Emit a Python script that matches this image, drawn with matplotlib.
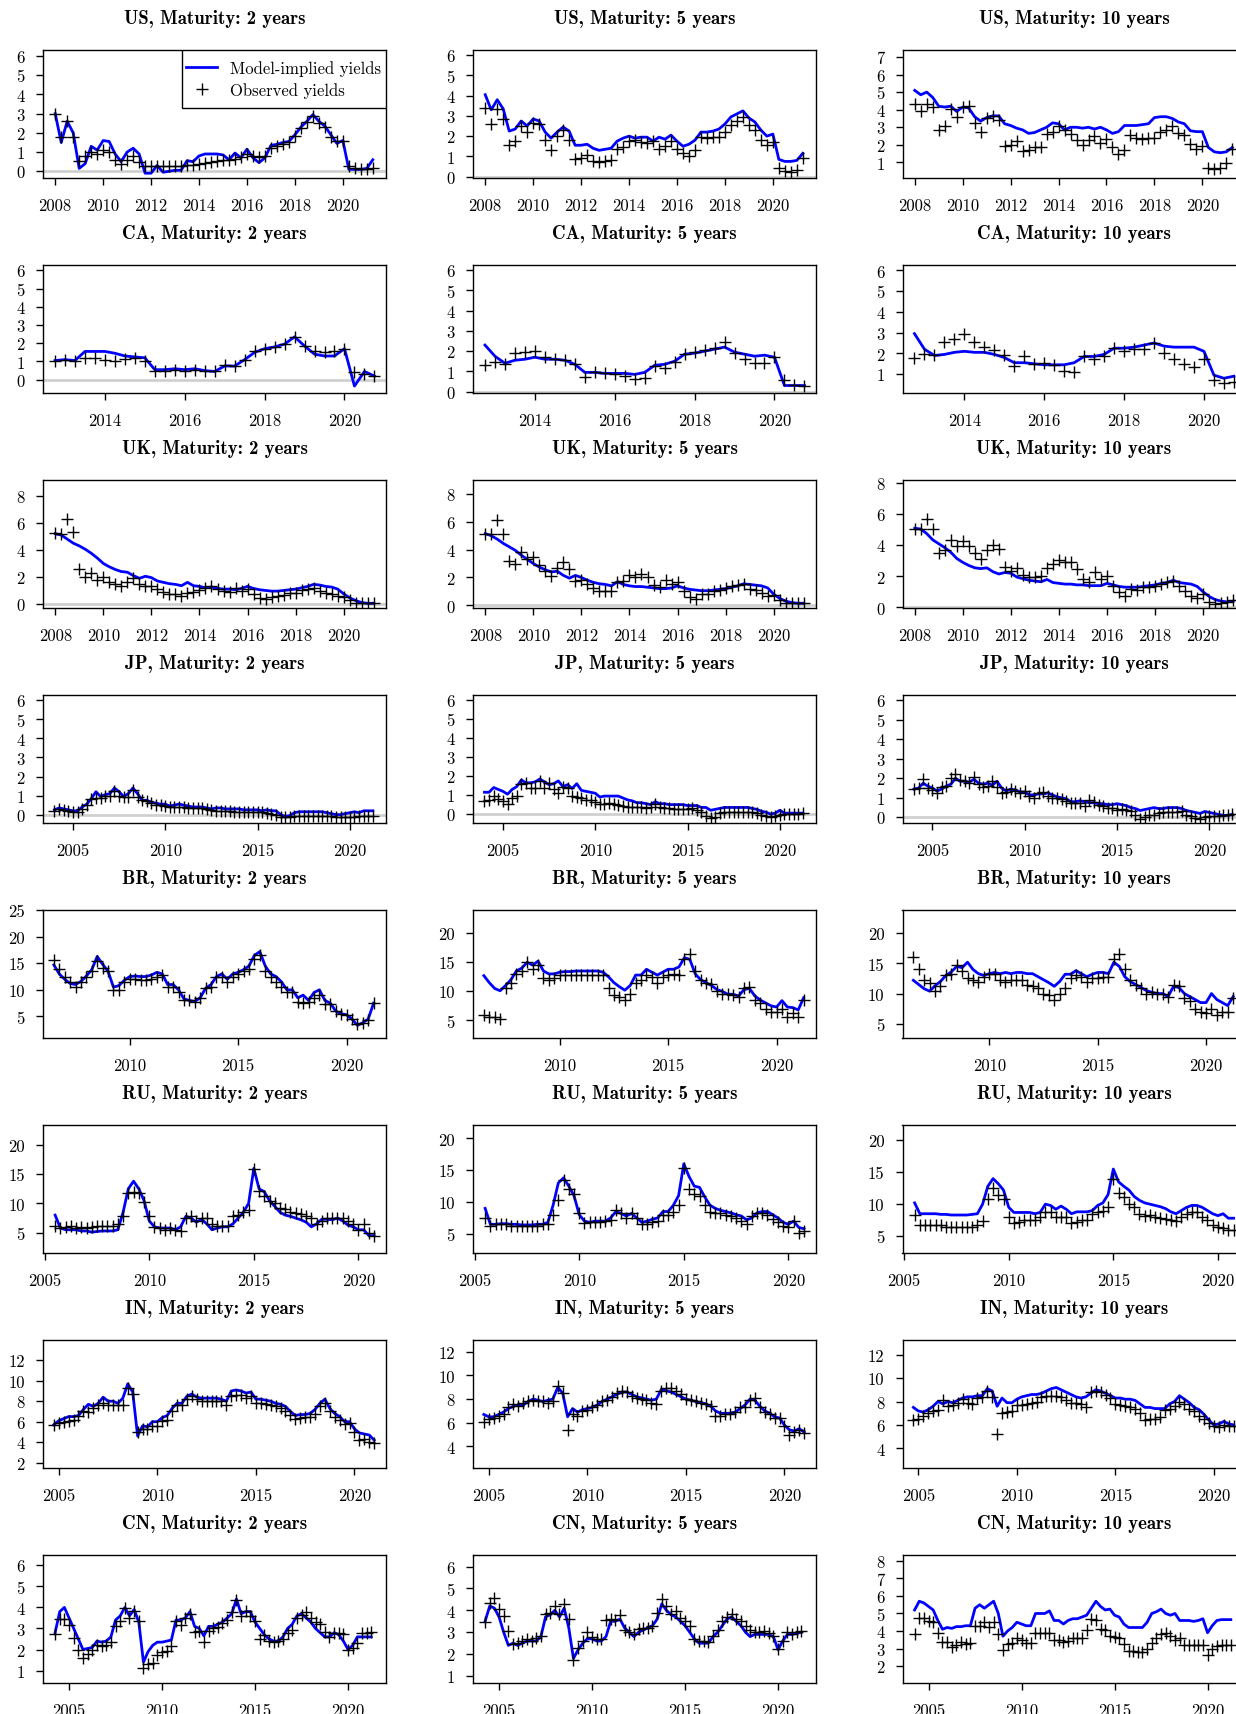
import numpy as np
import matplotlib
matplotlib.use("Agg")
import matplotlib.pyplot as plt
from matplotlib.patches import Rectangle

plt.rcParams["font.family"] = "cmr10"
plt.rcParams["axes.unicode_minus"] = False
plt.rcParams["axes.formatter.use_mathtext"] = True

# first quarter of each country's sample (quarterly data)
start = {"US": 2008.0, "CA": 2012.75, "UK": 2008.0, "JP": 2004.0,
         "BR": 2006.5, "RU": 2005.5, "IN": 2004.75, "CN": 2004.25}

# ---------------- US (2008Q1 - 2021Q2) ----------------
us2_model = [3.0, 1.5, 2.6, 2.0, 0.15, 0.4, 1.3, 1.1, 1.6, 1.55, 0.9, 0.5,
             1.0, 1.2, 0.9, -0.1, -0.1, 0.3, -0.05, 0.0, 0.05, 0.05, 0.55, 0.5,
             0.8, 0.9, 0.9, 0.9, 0.85, 0.6, 0.95, 0.7, 1.15, 0.7, 0.45, 0.7,
             1.35, 1.4, 1.5, 1.55, 1.9, 2.3, 2.6, 2.95, 2.6, 2.35, 1.9, 1.45,
             1.6, 0.1, 0.1, 0.1, 0.15, 0.6]
us2_obs = [3.0, 1.8, 2.6, 1.8, 0.55, 0.8, 1.0, 0.9, 1.1, 1.0, 0.6, 0.4,
           0.6, 0.8, 0.5, 0.25, 0.25, 0.3, 0.25, 0.25, 0.25, 0.3, 0.35, 0.35,
           0.4, 0.45, 0.5, 0.55, 0.6, 0.6, 0.65, 0.75, 0.9, 0.8, 0.75, 0.8,
           1.2, 1.3, 1.4, 1.5, 1.85, 2.25, 2.55, 2.85, 2.5, 2.3, 1.8, 1.6,
           1.6, 0.25, 0.15, 0.1, 0.1, 0.15]
us5_model = [4.05, 3.3, 3.8, 3.35, 2.25, 2.35, 2.75, 2.5, 2.85, 2.75, 2.2, 1.9,
             2.2, 2.45, 2.25, 1.55, 1.55, 1.6, 1.4, 1.3, 1.35, 1.4, 1.75, 1.9,
             2.0, 1.9, 1.95, 1.95, 1.75, 1.95, 1.85, 2.05, 1.75, 1.5, 1.6, 1.8,
             2.2, 2.2, 2.25, 2.35, 2.6, 2.95, 3.1, 3.25, 2.9, 2.7, 2.3, 2.0,
             2.1, 0.85, 0.75, 0.75, 0.8, 1.15]
us5_obs = [3.4, 2.6, 3.35, 2.85, 1.55, 1.75, 2.5, 2.2, 2.65, 2.6, 1.8, 1.3,
           2.0, 2.3, 1.8, 0.85, 0.9, 1.05, 0.75, 0.7, 0.75, 0.8, 1.35, 1.45,
           1.75, 1.8, 1.7, 1.65, 1.75, 1.35, 1.5, 1.75, 1.35, 1.15, 1.0, 1.3,
           1.95, 1.9, 1.95, 1.95, 2.2, 2.55, 2.75, 2.95, 2.55, 2.3, 1.8, 1.55,
           1.7, 0.4, 0.3, 0.25, 0.35, 0.9]
us10_model = [5.1, 4.85, 5.0, 4.7, 4.2, 4.15, 4.2, 3.9, 4.15, 4.1, 3.6, 3.35,
              3.55, 3.65, 3.65, 3.2, 3.1, 2.95, 2.85, 2.65, 2.7, 2.85, 3.0, 3.25,
              3.2, 2.85, 3.0, 3.0, 2.95, 3.0, 2.9, 3.0, 2.85, 2.65, 2.75, 3.1,
              3.1, 3.1, 3.15, 3.2, 3.55, 3.6, 3.6, 3.5, 3.3, 3.2, 2.8, 2.75,
              2.75, 1.85, 1.6, 1.55, 1.6, 1.85]
us10_obs = [4.3, 3.95, 4.3, 4.15, 2.85, 3.1, 4.05, 3.6, 4.15, 4.2, 3.25, 2.75,
            3.5, 3.65, 3.4, 1.95, 2.0, 2.2, 1.65, 1.7, 1.85, 1.9, 2.6, 2.75,
            3.1, 2.85, 2.6, 2.3, 2.0, 2.3, 2.5, 2.1, 2.35, 1.85, 1.5, 1.7,
            2.55, 2.4, 2.35, 2.4, 2.4, 2.75, 2.85, 3.05, 2.7, 2.55, 2.05, 1.75,
            1.95, 0.7, 0.65, 0.7, 0.95, 1.75]

# ---------------- CA (2012Q4 - 2020Q4) ----------------
ca2_model = [1.05, 1.1, 1.05, 1.55, 1.55, 1.55, 1.45, 1.3, 1.25, 1.2, 0.55, 0.55,
             0.6, 0.55, 0.6, 0.5, 0.45, 0.75, 0.75, 1.1, 1.5, 1.7, 1.8, 1.95,
             2.35, 1.85, 1.4, 1.3, 1.3, 1.7, -0.35, 0.45, 0.2]
ca2_obs = [1.05, 1.1, 1.0, 1.2, 1.2, 1.1, 1.05, 1.15, 1.2, 1.05, 0.45, 0.5,
           0.55, 0.5, 0.55, 0.5, 0.45, 0.8, 0.75, 1.1, 1.55, 1.7, 1.8, 1.95,
           2.35, 1.85, 1.6, 1.5, 1.55, 1.7, 0.4, 0.3, 0.2]
ca5_model = [2.3, 1.75, 1.4, 1.55, 1.6, 1.7, 1.6, 1.6, 1.55, 1.35, 0.95, 0.95,
             0.9, 0.9, 0.9, 0.85, 0.95, 1.3, 1.35, 1.5, 1.85, 1.9, 2.0, 2.1,
             2.2, 1.95, 1.85, 1.75, 1.8, 1.7, 0.3, 0.3, 0.3]
ca5_obs = [1.3, 1.45, 1.35, 1.9, 1.95, 2.0, 1.7, 1.6, 1.55, 1.35, 0.7, 0.95,
           0.9, 0.85, 0.75, 0.6, 0.65, 1.25, 1.15, 1.45, 1.85, 1.95, 2.05, 2.15,
           2.45, 1.9, 1.6, 1.4, 1.4, 1.7, 0.55, 0.35, 0.3]
ca10_model = [2.95, 2.2, 1.9, 1.95, 2.05, 2.1, 2.05, 2.05, 1.95, 1.8, 1.55, 1.55,
              1.5, 1.45, 1.45, 1.45, 1.55, 1.85, 1.85, 1.95, 2.25, 2.25, 2.3, 2.4,
              2.5, 2.35, 2.3, 2.3, 2.3, 2.1, 0.95, 0.8, 0.9]
ca10_obs = [1.8, 1.95, 1.9, 2.55, 2.7, 2.95, 2.55, 2.3, 2.15, 1.9, 1.4, 1.85,
            1.5, 1.55, 1.45, 1.15, 1.1, 1.85, 1.75, 1.85, 2.25, 2.1, 2.2, 2.2,
            2.5, 2.0, 1.75, 1.5, 1.35, 1.75, 0.7, 0.55, 0.6]

# ---------------- UK (2008Q1 - 2021Q2) ----------------
uk2_model = [5.2, 5.1, 4.8, 4.5, 4.3, 4.05, 3.75, 3.4, 3.0, 2.75, 2.55, 2.4,
             2.35, 2.1, 1.9, 2.05, 1.95, 1.7, 1.6, 1.5, 1.45, 1.35, 1.6, 1.35,
             1.3, 1.2, 1.25, 1.15, 1.1, 1.1, 1.05, 1.15, 1.3, 1.15, 1.05, 1.0,
             0.95, 0.95, 1.0, 1.05, 1.1, 1.2, 1.3, 1.45, 1.4, 1.3, 1.25, 1.1,
             0.75, 0.45, 0.25, 0.1, 0.05, 0.05]
uk2_obs = [5.25, 5.2, 6.3, 5.3, 2.6, 2.0, 2.3, 1.75, 2.0, 1.6, 1.45, 1.3,
           1.6, 1.9, 1.5, 1.3, 1.3, 1.1, 0.9, 0.75, 0.75, 0.6, 0.8, 0.85,
           1.0, 1.2, 1.35, 1.1, 0.95, 0.9, 1.15, 0.95, 1.1, 0.75, 0.45, 0.4,
           0.55, 0.6, 0.65, 0.8, 0.8, 1.05, 1.1, 1.2, 0.95, 0.8, 0.7, 0.6,
           0.55, 0.3, 0.1, 0.05, 0.05, 0.05]
uk5_model = [5.15, 5.0, 4.75, 4.45, 4.2, 3.95, 3.6, 3.3, 3.0, 2.75, 2.55, 2.4,
             2.45, 2.15, 1.95, 2.15, 2.0, 1.8, 1.65, 1.55, 1.5, 1.4, 1.7, 1.5,
             1.4, 1.35, 1.35, 1.3, 1.25, 1.2, 1.2, 1.25, 1.4, 1.25, 1.15, 1.1,
             1.05, 1.05, 1.1, 1.15, 1.2, 1.3, 1.4, 1.55, 1.5, 1.45, 1.4, 1.25,
             0.8, 0.5, 0.3, 0.2, 0.15, 0.15]
uk5_obs = [5.1, 5.1, 6.1, 5.15, 3.2, 3.0, 3.85, 3.3, 3.5, 2.9, 2.5, 2.1,
           2.7, 3.1, 2.6, 1.75, 1.8, 1.55, 1.25, 1.05, 1.05, 1.0, 1.7, 1.75,
           2.15, 2.05, 2.25, 2.0, 1.45, 1.35, 1.8, 1.5, 1.65, 1.0, 0.6, 0.45,
           0.8, 0.85, 1.05, 1.1, 1.25, 1.4, 1.45, 1.5, 1.2, 1.1, 0.9, 0.7,
           0.75, 0.35, 0.2, 0.2, 0.2, 0.2]
uk10_model = [5.1, 5.05, 4.75, 4.35, 4.1, 3.85, 3.55, 3.15, 2.9, 2.7, 2.55, 2.5,
              2.55, 2.3, 2.15, 2.25, 2.2, 1.95, 1.85, 1.75, 1.7, 1.65, 1.8, 1.6,
              1.55, 1.5, 1.5, 1.45, 1.45, 1.4, 1.4, 1.4, 1.55, 1.45, 1.35, 1.3,
              1.3, 1.3, 1.35, 1.4, 1.45, 1.55, 1.6, 1.75, 1.6, 1.55, 1.5, 1.35,
              1.0, 0.7, 0.5, 0.4, 0.35, 0.4]
uk10_obs = [5.05, 5.05, 5.7, 5.05, 3.5, 3.7, 4.35, 3.95, 4.25, 3.95, 3.5, 3.15,
            3.7, 4.0, 3.75, 2.6, 2.35, 2.55, 2.1, 1.95, 1.95, 2.0, 2.55, 2.8,
            3.05, 2.95, 2.9, 2.5, 1.85, 1.65, 2.3, 1.85, 2.05, 1.4, 1.0, 0.75,
            1.2, 1.1, 1.3, 1.3, 1.35, 1.5, 1.65, 1.7, 1.35, 1.05, 0.75, 0.6,
            0.85, 0.35, 0.25, 0.3, 0.35, 0.45]

# ---------------- JP (2004Q1 - 2021Q2) ----------------
jp2_model = [0.25, 0.35, 0.3, 0.25, 0.2, 0.2, 0.4, 0.55, 0.85, 1.2, 0.95, 1.05,
             1.1, 1.4, 1.2, 0.95, 1.1, 1.4, 1.1, 0.75, 0.75, 0.65, 0.6, 0.55,
             0.55, 0.45, 0.5, 0.55, 0.5, 0.45, 0.4, 0.4, 0.4, 0.35, 0.3, 0.35,
             0.35, 0.3, 0.3, 0.3, 0.3, 0.25, 0.25, 0.25, 0.25, 0.2, 0.25, 0.2,
             0.2, 0.0, -0.1, -0.05, 0.1, 0.15, 0.15, 0.15, 0.15, 0.15, 0.15, 0.1,
             0.05, 0.0, 0.0, 0.05, 0.1, 0.15, 0.1, 0.2, 0.2, 0.2]
jp2_obs = [0.2, 0.3, 0.25, 0.2, 0.15, 0.15, 0.3, 0.5, 0.8, 0.85, 0.85, 1.0,
           1.0, 1.25, 1.0, 0.9, 0.9, 1.3, 0.95, 0.75, 0.7, 0.6, 0.5, 0.5,
           0.45, 0.4, 0.4, 0.4, 0.4, 0.35, 0.35, 0.35, 0.35, 0.3, 0.25, 0.2,
           0.2, 0.2, 0.2, 0.15, 0.15, 0.15, 0.15, 0.15, 0.15, 0.15, 0.1, 0.05,
           0.0, -0.15, -0.15, -0.1, -0.05, -0.05, -0.05, -0.05, -0.05, -0.05, -0.05, -0.05,
           -0.05, -0.15, -0.15, -0.1, -0.1, -0.1, -0.05, -0.05, -0.05, -0.05]
jp5_model = [1.15, 1.15, 1.4, 1.3, 1.2, 1.05, 1.3, 1.45, 1.8, 1.65, 1.65, 1.7,
             1.85, 1.7, 1.55, 1.6, 1.75, 1.45, 1.55, 1.35, 1.6, 1.25, 1.2, 1.15,
             1.1, 0.9, 0.95, 0.95, 0.95, 0.95, 0.85, 0.75, 0.7, 0.6, 0.6, 0.55,
             0.5, 0.65, 0.55, 0.55, 0.5, 0.5, 0.5, 0.5, 0.45, 0.45, 0.45, 0.35,
             0.35, 0.2, 0.25, 0.3, 0.35, 0.35, 0.35, 0.35, 0.35, 0.35, 0.3, 0.25,
             0.15, 0.1, 0.0, 0.05, 0.2, 0.05, 0.05, 0.05, 0.05, 0.05]
jp5_obs = [0.7, 0.75, 0.95, 0.8, 0.7, 0.55, 0.85, 0.95, 1.6, 1.65, 1.4, 1.4,
           1.75, 1.35, 1.65, 1.3, 1.1, 1.45, 1.4, 0.95, 0.9, 0.85, 0.75, 0.75,
           0.65, 0.55, 0.55, 0.6, 0.55, 0.5, 0.45, 0.4, 0.4, 0.35, 0.35, 0.3,
           0.35, 0.55, 0.35, 0.3, 0.3, 0.25, 0.25, 0.25, 0.25, 0.3, 0.2, 0.1,
           -0.1, -0.2, -0.15, 0.05, 0.1, 0.1, 0.1, 0.1, 0.1, 0.1, 0.1, 0.05,
           -0.05, -0.1, -0.15, -0.1, -0.05, 0.0, 0.0, 0.0, 0.0, 0.05]
jp10_model = [1.45, 1.5, 1.75, 1.6, 1.5, 1.35, 1.45, 1.6, 1.7, 2.0, 1.85, 1.85,
              1.8, 1.95, 1.75, 1.7, 1.75, 1.65, 1.85, 1.5, 1.35, 1.45, 1.4, 1.3,
              1.3, 1.15, 1.15, 1.2, 1.2, 1.25, 1.15, 1.05, 1.0, 0.95, 0.8, 0.8,
              0.85, 0.8, 0.75, 0.75, 0.7, 0.7, 0.65, 0.65, 0.7, 0.65, 0.6, 0.5,
              0.45, 0.35, 0.4, 0.45, 0.5, 0.45, 0.45, 0.5, 0.5, 0.5, 0.45, 0.35,
              0.3, 0.25, 0.2, 0.3, 0.25, 0.2, 0.15, 0.1, 0.1, 0.15]
jp10_obs = [1.45, 1.5, 1.95, 1.5, 1.4, 1.25, 1.55, 1.6, 2.0, 2.2, 1.9, 1.85,
            1.75, 2.05, 1.7, 1.55, 1.6, 1.85, 1.55, 1.25, 1.3, 1.45, 1.35, 1.25,
            1.35, 1.1, 1.0, 1.25, 1.3, 1.1, 1.0, 1.0, 0.95, 0.85, 0.75, 0.75,
            0.75, 0.6, 0.9, 0.8, 0.65, 0.6, 0.5, 0.5, 0.4, 0.45, 0.4, 0.3,
            0.1, -0.1, 0.0, 0.1, 0.1, 0.2, 0.25, 0.25, 0.25, 0.25, 0.3, 0.1,
            0.05, -0.05, -0.1, 0.0, 0.05, 0.05, 0.05, 0.1, 0.1, 0.15]

# ---------------- BR (2006Q3 - 2021Q2) ----------------
br2_model = [14.7, 13.0, 12.0, 11.2, 11.0, 11.6, 12.6, 13.8, 16.3, 14.8,
             13.5, 10.5, 10.8, 11.8, 12.5, 12.6, 12.5, 12.5, 12.8, 13.3, 13.0, 11.0,
             11.0, 10.0, 8.3, 8.0, 7.8, 8.5, 10.3, 11.0, 12.5, 13.0, 12.0, 13.0,
             13.3, 13.8, 14.5, 16.5, 17.2, 14.5, 13.0, 12.5, 11.5, 10.0, 10.0, 8.5,
             9.0, 8.0, 9.5, 10.0, 8.0, 7.5, 6.0, 5.5, 5.3, 4.5, 3.3, 3.8, 4.5, 7.5]
br2_obs = [15.7, 14.0, 12.5, 11.5, 10.5, 11.5, 12.5, 13.5, 15.5, 14.2,
           13.5, 10.0, 10.0, 11.5, 12.0, 12.0, 11.8, 11.8, 12.0, 12.5, 12.8, 10.5,
           10.5, 9.5, 8.0, 8.0, 7.8, 8.5, 10.3, 10.5, 12.5, 12.5, 11.5, 12.5,
           13.0, 13.5, 14.0, 15.8, 16.5, 13.5, 12.5, 11.5, 10.5, 9.5, 9.5, 7.8,
           7.5, 7.8, 8.5, 9.0, 7.3, 7.3, 6.0, 5.5, 5.2, 4.5, 3.5, 3.8, 4.3, 7.5]
br5_model = [12.7, 11.5, 10.5, 10.1, 11.0, 12.0, 13.5, 14.0, 15.0, 14.5,
             15.2, 13.5, 13.0, 13.0, 13.3, 13.4, 13.4, 13.5, 13.5, 13.5, 13.5, 13.5,
             13.3, 12.5, 11.5, 10.8, 10.2, 11.0, 12.8, 12.8, 13.8, 13.3, 12.8, 13.3,
             13.8, 13.8, 14.2, 15.8, 15.5, 13.0, 12.0, 11.5, 11.0, 10.3, 10.0, 9.5,
             9.5, 9.2, 10.3, 10.5, 9.2, 8.5, 8.0, 7.5, 7.3, 8.4, 7.3, 7.2, 6.8, 8.9]
br5_obs = [6.0, 5.5, 5.5, 5.2, 10.5, 11.5, 13.0, 13.5, 15.0, 13.8,
           14.5, 12.3, 12.0, 12.3, 12.8, 12.8, 12.8, 12.8, 12.8, 12.8, 12.8, 12.8,
           12.8, 10.5, 9.3, 9.0, 8.5, 9.5, 11.5, 12.0, 12.8, 12.5, 11.5, 12.5,
           12.8, 13.0, 12.8, 15.5, 16.5, 13.5, 12.0, 11.5, 11.3, 10.0, 9.5, 9.5,
           9.3, 9.0, 10.5, 10.7, 8.5, 8.0, 7.0, 6.5, 6.5, 7.0, 5.5, 6.3, 5.5, 8.5]
br10_model = [12.2, 11.5, 10.8, 10.4, 11.3, 12.0, 13.0, 13.6, 14.5, 14.3,
              15.2, 14.0, 13.3, 13.0, 13.3, 13.5, 13.3, 13.5, 13.3, 13.5, 13.5, 13.3,
              13.3, 12.8, 12.3, 11.8, 11.2, 12.0, 13.2, 13.2, 13.8, 13.3, 12.8, 13.2,
              13.5, 13.5, 13.3, 15.2, 14.5, 12.8, 12.0, 11.5, 11.0, 10.5, 10.2, 10.0,
              10.0, 9.5, 11.2, 11.0, 10.0, 9.5, 9.0, 8.5, 8.5, 10.0, 9.0, 8.5, 8.0, 9.5]
br10_obs = [16.0, 14.0, 12.3, 11.8, 10.5, 11.3, 13.0, 13.3, 14.8, 13.8,
            12.5, 12.3, 12.0, 12.8, 13.3, 13.3, 12.3, 12.0, 12.3, 12.3, 12.3, 11.5,
            11.3, 11.0, 10.0, 9.8, 9.0, 10.0, 11.0, 12.5, 13.0, 12.8, 12.0, 12.5,
            12.5, 12.8, 12.7, 15.8, 16.5, 14.0, 12.3, 11.5, 11.0, 10.0, 10.3, 10.0,
            10.0, 9.5, 11.5, 11.3, 9.3, 8.8, 7.5, 7.0, 6.8, 7.5, 6.5, 7.0, 7.0, 9.3]

# ---------------- RU (2005Q3 - 2020Q4) ----------------
ru2_model = [8.0, 5.8, 5.5, 5.5, 5.5, 5.3, 5.3, 5.1, 5.2, 5.3, 5.3, 5.3, 5.5, 8.5,
             12.5, 13.8, 12.5, 10.5, 7.0, 6.0, 5.8, 5.8, 5.8, 5.5, 6.0, 7.8,
             7.5, 6.8, 7.3, 6.5, 5.5, 5.8, 6.0, 6.0, 6.5, 7.5, 8.5, 10.0,
             16.0, 12.5, 12.0, 10.5, 9.5, 8.5, 8.0, 7.8, 7.5, 7.2, 6.8, 6.0,
             6.5, 7.3, 7.3, 7.2, 7.5, 7.0, 6.3, 6.0, 5.5, 5.5, 4.5, 4.5]
ru2_obs = [6.2, 5.8, 6.0, 6.2, 5.8, 6.0, 5.8, 6.0, 6.2, 6.2, 6.2, 6.2, 6.5, 7.8,
           11.8, 12.0, 11.8, 10.2, 7.8, 6.0, 5.8, 5.5, 5.8, 5.5, 5.3, 7.5,
           7.8, 7.0, 7.5, 7.5, 6.5, 6.2, 6.2, 6.2, 7.8, 8.0, 8.5, 8.8,
           15.8, 12.2, 11.2, 10.5, 10.0, 9.3, 9.0, 8.5, 8.3, 8.2, 7.8, 7.5,
           6.5, 7.0, 7.5, 7.5, 7.5, 7.5, 7.0, 6.5, 5.5, 6.5, 5.0, 4.5]
ru5_model = [9.0, 6.5, 6.5, 6.6, 6.6, 6.5, 6.5, 6.4, 6.4, 6.4, 6.5, 6.5, 6.8, 9.5,
             13.0, 13.8, 12.5, 11.0, 8.0, 7.0, 6.8, 7.0, 7.0, 7.0, 7.5, 8.5,
             8.2, 7.8, 8.2, 7.5, 6.8, 7.0, 7.3, 7.5, 8.5, 8.5, 9.5, 11.0,
             16.0, 14.0, 12.5, 12.3, 10.8, 9.5, 9.0, 8.7, 8.5, 8.3, 8.0, 7.8,
             7.2, 7.5, 8.3, 8.5, 8.5, 8.0, 7.5, 6.8, 6.5, 7.0, 6.0, 5.8]
ru5_obs = [7.5, 6.3, 6.5, 6.5, 6.5, 6.3, 6.3, 6.3, 6.3, 6.3, 6.3, 6.5, 6.5, 8.0,
           10.3, 13.5, 12.0, 11.2, 8.2, 6.7, 6.8, 6.8, 6.8, 7.0, 7.2, 8.7,
           8.2, 7.5, 8.3, 7.5, 6.5, 6.5, 6.8, 7.0, 8.0, 8.0, 8.5, 9.5,
           15.3, 12.0, 11.2, 11.0, 9.5, 8.5, 8.3, 8.2, 8.0, 7.8, 7.5, 7.0,
           6.5, 7.8, 8.3, 8.3, 8.0, 7.3, 6.8, 6.3, 6.0, 7.0, 5.2, 5.5]
ru10_model = [10.2, 8.5, 8.5, 8.5, 8.5, 8.4, 8.4, 8.3, 8.3, 8.3, 8.3, 8.4, 8.5, 10.0,
              12.8, 14.0, 13.2, 12.2, 9.5, 8.7, 8.7, 8.7, 8.7, 8.5, 8.7, 10.0,
              9.8, 9.2, 9.7, 9.2, 8.5, 8.8, 8.8, 8.8, 9.0, 9.8, 10.2, 11.5,
              15.5, 13.5, 12.8, 12.2, 11.2, 10.6, 10.2, 10.0, 9.8, 9.6, 9.3, 8.8,
              8.5, 9.0, 9.5, 9.8, 9.8, 9.5, 9.0, 8.5, 8.2, 8.5, 7.8, 7.8]
ru10_obs = [8.3, 6.8, 6.8, 6.8, 6.8, 6.7, 6.5, 6.5, 6.5, 6.5, 6.5, 6.5, 6.8, 7.3,
            10.8, 12.5, 11.5, 10.8, 8.0, 7.0, 7.2, 7.5, 7.5, 7.5, 8.0, 8.8,
            8.8, 8.0, 8.0, 8.0, 7.0, 7.2, 7.5, 7.5, 8.5, 8.8, 9.0, 9.5,
            14.0, 11.8, 11.2, 10.0, 9.5, 8.5, 8.2, 8.3, 8.0, 7.8, 7.7, 7.5,
            7.3, 8.0, 8.5, 8.8, 8.7, 8.0, 7.5, 6.8, 6.5, 6.3, 6.0, 6.0]

# ---------------- IN (2004Q4 - 2021Q1) ----------------
in2_model = [5.7, 6.1, 6.3, 6.5, 6.5, 6.6, 7.2, 7.7, 7.5, 7.8, 8.4, 8.0, 8.0,
             7.8, 8.3, 9.7, 8.9, 4.6, 5.6, 5.5, 6.0, 6.0, 6.4, 6.6, 7.3,
             7.8, 7.8, 8.5, 8.7, 8.4, 8.3, 8.3, 8.3, 8.3, 8.2, 8.0, 9.0,
             9.1, 9.0, 8.8, 8.9, 8.2, 8.2, 8.1, 8.0, 7.8, 7.7, 7.5, 7.0,
             6.6, 6.7, 6.7, 6.8, 7.2, 7.8, 8.2, 7.3, 6.8, 6.5, 6.0, 6.0,
             5.3, 4.9, 4.8, 4.7, 4.2]
in2_obs = [5.7, 5.9, 6.0, 6.1, 6.2, 6.6, 7.0, 6.9, 7.3, 7.6, 7.8, 7.6, 7.6,
           7.6, 7.6, 9.3, 8.7, 5.0, 5.3, 5.3, 5.6, 5.6, 6.1, 6.2, 7.0,
           7.6, 7.6, 8.2, 8.5, 8.2, 8.0, 8.0, 8.0, 8.0, 8.0, 7.6, 8.5,
           8.6, 8.6, 8.3, 8.5, 7.8, 7.8, 7.7, 7.6, 7.5, 7.3, 7.0, 6.7,
           6.3, 6.4, 6.5, 6.5, 6.8, 7.5, 7.8, 7.0, 6.5, 6.2, 5.8, 5.9,
           5.0, 4.2, 4.3, 4.0, 3.9]
in5_model = [6.7, 6.5, 6.5, 6.7, 6.9, 7.2, 7.4, 7.5, 7.5, 7.8, 8.0, 7.9, 7.8,
             7.9, 8.0, 9.0, 8.5, 6.5, 7.2, 6.9, 7.1, 7.2, 7.3, 7.5, 7.8,
             8.0, 8.2, 8.4, 8.6, 8.6, 8.4, 8.2, 8.1, 8.0, 7.9, 8.0, 8.8,
             8.7, 8.6, 8.4, 8.2, 8.0, 7.9, 7.8, 7.7, 7.6, 7.4, 7.0, 6.8,
             6.8, 6.8, 6.9, 7.2, 7.5, 8.0, 7.9, 7.4, 7.0, 6.8, 6.5, 6.4,
             5.8, 5.4, 5.3, 5.5, 5.2]
in5_obs = [6.1, 6.3, 6.4, 6.6, 6.7, 7.3, 7.6, 7.4, 7.7, 7.8, 7.9, 7.8, 7.8,
           7.7, 7.8, 9.1, 8.5, 5.4, 6.7, 6.6, 7.0, 7.1, 7.3, 7.5, 7.8,
           7.9, 8.2, 8.5, 8.7, 8.6, 8.3, 8.1, 8.0, 7.9, 7.7, 7.6, 8.7,
           8.9, 8.9, 8.7, 8.4, 8.0, 7.9, 7.8, 7.7, 7.6, 7.4, 6.6, 6.6,
           6.7, 6.7, 6.9, 7.3, 7.3, 7.9, 8.1, 7.3, 6.9, 6.7, 6.4, 6.4,
           5.7, 5.0, 5.2, 5.4, 5.1]
in10_model = [7.5, 7.2, 7.1, 7.3, 7.6, 8.0, 7.8, 8.0, 7.9, 8.1, 8.3, 8.4, 8.4,
              8.5, 8.5, 9.1, 8.9, 7.6, 8.3, 7.9, 7.9, 8.2, 8.4, 8.5, 8.6,
              8.6, 8.7, 8.9, 9.1, 9.2, 9.0, 8.8, 8.6, 8.4, 8.3, 8.4, 8.7,
              9.0, 8.9, 8.7, 8.5, 8.3, 8.3, 8.2, 8.2, 8.1, 7.8, 7.5, 7.5,
              7.4, 7.4, 7.4, 7.8, 8.0, 8.5, 8.2, 7.9, 7.5, 7.3, 6.9, 6.4,
              6.0, 6.1, 6.3, 6.1, 6.0]
in10_obs = [6.4, 6.5, 6.8, 7.0, 7.2, 7.3, 8.1, 7.6, 7.7, 7.9, 8.2, 7.9, 7.8,
            8.3, 8.4, 8.9, 8.4, 5.2, 7.0, 7.1, 7.2, 7.7, 7.7, 7.8, 7.9,
            8.0, 8.4, 8.5, 8.5, 8.5, 8.4, 8.1, 7.9, 7.9, 7.8, 7.5, 8.8,
            8.9, 8.8, 8.6, 8.3, 7.8, 7.7, 7.6, 7.5, 7.4, 7.0, 6.4, 6.5,
            6.5, 6.7, 7.3, 7.4, 7.6, 8.0, 7.8, 7.4, 7.2, 6.8, 6.5, 6.2,
            5.9, 5.8, 6.0, 5.9, 5.9]

# ---------------- CN (2004Q2 - 2021Q2) ----------------
cn2_model = [2.8, 3.8, 4.0, 3.5, 3.0, 2.5, 2.0, 2.05, 2.1, 2.4, 2.35,
             2.4, 2.6, 3.4, 3.6, 4.0, 3.6, 3.9, 3.3, 1.4, 1.9, 2.2, 2.35,
             2.35, 2.4, 2.45, 3.4, 3.4, 3.5, 3.8, 3.1, 3.0, 2.65, 3.1, 3.1,
             3.2, 3.3, 3.5, 3.7, 4.4, 3.7, 3.8, 3.8, 3.3, 3.0, 2.7, 2.5,
             2.4, 2.4, 2.6, 3.0, 3.2, 3.6, 3.7, 3.5, 3.3, 3.0, 2.8, 2.6,
             2.6, 2.8, 2.7, 2.4, 2.0, 2.2, 2.6, 2.6, 2.6, 2.6]
cn2_obs = [2.75, 3.45, 3.45, 3.15, 2.55, 2.0, 1.6, 1.8, 2.0, 2.2, 2.15,
           2.2, 2.35, 3.1, 3.35, 3.95, 3.5, 3.85, 3.35, 1.1, 1.3, 1.35, 1.75,
           1.9, 1.95, 2.15, 3.35, 3.15, 3.5, 3.7, 2.85, 2.9, 2.35, 2.9, 3.0,
           3.05, 3.25, 3.4, 3.8, 4.35, 3.6, 3.85, 3.6, 3.35, 2.5, 2.7, 2.4,
           2.35, 2.4, 2.5, 2.8, 2.95, 3.5, 3.65, 3.8, 3.5, 3.3, 3.2, 2.85,
           2.6, 2.8, 2.8, 2.75, 2.0, 2.05, 2.3, 2.8, 2.8, 2.85]
cn5_model = [3.5, 4.2, 4.1, 3.7, 3.0, 2.4, 2.5, 2.4, 2.5, 2.6, 2.6,
             2.6, 2.8, 3.7, 3.8, 4.0, 3.7, 4.1, 3.2, 1.8, 2.2, 2.5, 2.7,
             2.7, 2.6, 2.6, 2.8, 3.5, 3.5, 3.6, 3.2, 3.0, 2.8, 3.0, 3.1,
             3.2, 3.3, 3.6, 4.3, 4.0, 3.8, 3.7, 3.5, 3.3, 3.0, 2.7, 2.5,
             2.5, 2.5, 2.8, 3.0, 3.3, 3.6, 3.7, 3.5, 3.3, 3.0, 2.8, 2.9,
             2.9, 2.9, 2.9, 2.8, 2.2, 2.6, 2.9, 2.9, 2.95, 3.0]
cn5_obs = [3.45, 4.35, 4.55, 4.05, 3.75, 3.05, 2.45, 2.5, 2.6, 2.7, 2.6,
           2.75, 2.85, 3.85, 3.9, 4.2, 3.85, 4.3, 3.6, 1.75, 2.3, 2.6, 3.0,
           2.8, 2.7, 2.7, 3.55, 3.6, 3.55, 3.8, 3.1, 3.0, 2.9, 3.15, 3.2,
           3.2, 3.3, 3.9, 4.5, 4.2, 3.85, 3.95, 3.65, 3.5, 3.3, 2.7, 2.6,
           2.6, 2.55, 2.85, 3.1, 3.5, 3.7, 3.85, 3.6, 3.5, 3.3, 3.1, 3.0,
           3.0, 3.05, 2.95, 2.85, 2.25, 2.6, 3.0, 2.9, 3.0, 3.05]
cn10_model = [5.2, 5.7, 5.6, 5.4, 5.2, 4.6, 4.1, 4.2, 4.15, 4.25, 4.25,
              4.3, 4.3, 5.3, 5.5, 5.3, 5.5, 5.7, 5.0, 3.7, 4.0, 4.2, 4.5,
              4.4, 4.3, 4.3, 5.0, 5.0, 5.0, 5.15, 4.6, 4.6, 4.4, 4.6, 4.7,
              4.7, 4.8, 4.9, 5.3, 5.7, 5.4, 5.2, 5.25, 4.9, 4.8, 4.4, 4.2,
              4.2, 4.2, 4.2, 4.5, 5.0, 5.1, 5.25, 5.0, 4.9, 5.0, 4.6, 4.6,
              4.6, 4.55, 4.6, 4.7, 3.9, 4.3, 4.6, 4.65, 4.65, 4.65]
cn10_obs = [3.85, 4.75, 4.75, 4.55, 4.5, 3.9, 3.4, 3.35, 3.1, 3.2, 3.35,
            3.25, 3.3, 4.3, 4.3, 4.5, 4.25, 4.5, 3.8, 2.9, 3.25, 3.3, 3.6,
            3.5, 3.3, 3.3, 3.9, 3.9, 3.9, 3.9, 3.5, 3.5, 3.35, 3.45, 3.6,
            3.6, 3.6, 4.05, 4.7, 4.6, 4.1, 4.05, 3.7, 3.65, 3.6, 3.25, 2.85,
            2.85, 2.8, 2.8, 3.0, 3.3, 3.6, 3.8, 3.9, 3.7, 3.5, 3.6, 3.2,
            3.2, 3.2, 3.2, 3.2, 2.65, 2.95, 3.15, 3.2, 3.2, 3.2]

panels = [
    ("US", 2, us2_model, us2_obs), ("US", 5, us5_model, us5_obs), ("US", 10, us10_model, us10_obs),
    ("CA", 2, ca2_model, ca2_obs), ("CA", 5, ca5_model, ca5_obs), ("CA", 10, ca10_model, ca10_obs),
    ("UK", 2, uk2_model, uk2_obs), ("UK", 5, uk5_model, uk5_obs), ("UK", 10, uk10_model, uk10_obs),
    ("JP", 2, jp2_model, jp2_obs), ("JP", 5, jp5_model, jp5_obs), ("JP", 10, jp10_model, jp10_obs),
    ("BR", 2, br2_model, br2_obs), ("BR", 5, br5_model, br5_obs), ("BR", 10, br10_model, br10_obs),
    ("RU", 2, ru2_model, ru2_obs), ("RU", 5, ru5_model, ru5_obs), ("RU", 10, ru10_model, ru10_obs),
    ("IN", 2, in2_model, in2_obs), ("IN", 5, in5_model, in5_obs), ("IN", 10, in10_model, in10_obs),
    ("CN", 2, cn2_model, cn2_obs), ("CN", 5, cn5_model, cn5_obs), ("CN", 10, cn10_model, cn10_obs),
]

# axis ranges / ticks (R style)
row_xlim = {"US": (2007.49, 2021.8), "CA": (2012.45, 2021.04), "UK": (2007.49, 2021.76),
            "JP": (2003.38, 2021.96), "BR": (2006.0, 2021.82), "RU": (2004.92, 2021.32),
            "IN": (2004.2, 2021.6), "CN": (2003.6, 2022.04)}
row_xticks = {"US": range(2008, 2021, 2), "CA": range(2014, 2021, 2), "UK": range(2008, 2021, 2),
              "JP": range(2005, 2021, 5), "BR": range(2010, 2021, 5), "RU": range(2005, 2021, 5),
              "IN": range(2005, 2021, 5), "CN": range(2005, 2021, 5)}
ylims = [(-0.35, 6.31), (-0.07, 6.26), (0.11, 7.4),
         (-0.73, 6.29), (-0.07, 6.26), (0.09, 6.26),
         (-0.3, 9.18), (-0.19, 9.0), (-0.04, 8.21),
         (-0.44, 6.28), (-0.47, 6.28), (-0.29, 6.27),
         (0.92, 25.05), (1.97, 24.0), (2.63, 23.86),
         (1.53, 23.4), (1.99, 22.1), (2.35, 22.4),
         (1.48, 13.98), (2.17, 13.0), (2.33, 13.25),
         (0.41, 6.49), (0.68, 6.53), (1.03, 8.34)]
yticks = [range(0, 7), range(0, 7), range(1, 8),
          range(0, 7), range(0, 7), range(1, 7),
          range(0, 9, 2), range(0, 9, 2), range(0, 9, 2),
          range(0, 7), range(0, 7), range(0, 7),
          range(5, 26, 5), range(5, 21, 5), range(5, 21, 5),
          range(5, 21, 5), range(5, 21, 5), range(5, 21, 5),
          range(2, 13, 2), range(4, 13, 2), range(4, 13, 2),
          range(1, 7), range(1, 7), range(2, 9)]

W, H = 1236, 1715
col_left = [43, 473, 902.5]
ax_w, ax_h = 343, 128

fig = plt.figure(figsize=(W / 100, H / 100), dpi=100)

for k, (cty, mat, model, obs) in enumerate(panels):
    i, j = divmod(k, 3)
    top = 51 + 215 * i
    ax = fig.add_axes([col_left[j] / W, 1 - (top + ax_h) / H, ax_w / W, ax_h / H])

    lo, hi = ylims[k]
    if lo < 0:
        ax.axhline(0, color="#d0d0d0", lw=2, zorder=1)

    t_model = start[cty] + 0.25 * np.arange(len(model))
    t_obs = start[cty] + 0.25 * np.arange(len(obs))
    ax.plot(t_model, model, color="#0000ff", lw=2.0, zorder=2,
            label="Model-implied yields")
    ax.plot(t_obs, obs, ls="none", marker="+", ms=8, mew=1.0, color="black",
            zorder=3, label="Observed yields")

    ax.set_xlim(*row_xlim[cty])
    ax.set_ylim(lo, hi)
    xt = list(row_xticks[cty])
    ax.set_xticks(xt)
    ax.set_xticklabels([str(x) for x in xt])
    yt = list(yticks[k])
    ax.set_yticks(yt)
    ax.set_yticklabels([str(y) for y in yt])
    ax.tick_params(direction="out", length=5, width=1, labelsize=12)
    ax.tick_params(axis="x", pad=9)
    ax.tick_params(axis="y", pad=8)
    for s in ax.spines.values():
        s.set_linewidth(1.0)

    ax.text(0.5, 1 + 32 / ax_h, f"{cty}, Maturity: {mat} years",
            transform=ax.transAxes, ha="center", va="center",
            fontfamily="cmb10", fontsize=13.5)

    if k == 0:
        # R-style legend box: wider top/bottom padding than left/right
        bx, by = 0.404, 0.547
        ax.add_patch(Rectangle((bx, by), 1 - bx, 1 - by, transform=ax.transAxes,
                               facecolor="white", edgecolor="black", lw=1.0, zorder=4))
        leg = ax.legend(loc="center", bbox_to_anchor=((1 + bx) / 2, (1 + by) / 2),
                        frameon=False, fontsize=12, handlelength=1.85,
                        handletextpad=0.8, borderpad=0, labelspacing=0.35)
        leg.set_zorder(5)

fig.savefig("out.png", dpi=100)
